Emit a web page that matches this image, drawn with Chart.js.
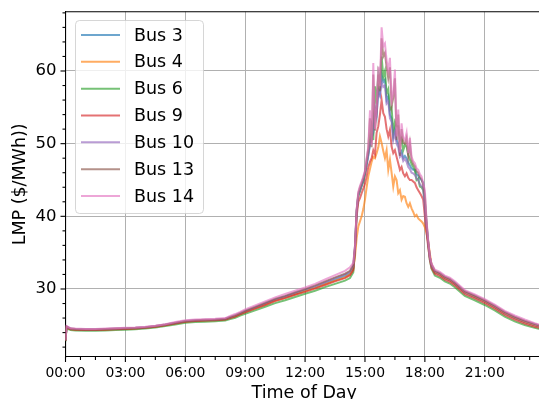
<!DOCTYPE html>
<html>
<head>
<meta charset="utf-8">
<script src="https://cdn.jsdelivr.net/npm/chart.js@4/dist/chart.umd.min.js"></script>
<style>
html,body{margin:0;padding:0;overflow:hidden;background:#fff;width:539px;height:399px}
#wrap{position:absolute;left:0;top:0;width:543px;height:410px}
</style>
</head>
<body>
<div id="wrap"><canvas id="c" width="543" height="410"></canvas></div>
<script>
// ---------------- DATA ----------------
const busNames = ["Bus 3", "Bus 4", "Bus 6", "Bus 9", "Bus 10", "Bus 13", "Bus 14"];

const times = [
  // morning / midday
  "00:00","00:03","00:15","00:30","01:00","01:30","02:00","02:30","03:00","03:30",
  "04:00","04:30","05:00","05:30","06:00","06:30","07:00","07:30","08:00","08:15",
  "08:30","08:45","09:00","09:30","10:00","10:30","11:00","11:30","12:00","12:30",
  "13:00","13:30","14:00","14:15",
  // afternoon peak (5-minute)
  "14:25","14:30","14:35","14:40","14:45","14:50","14:55","15:00","15:05","15:10",
  "15:15","15:20","15:25","15:30","15:35","15:40","15:45","15:50","15:55","16:00",
  "16:05","16:10","16:15","16:20","16:25","16:30","16:35","16:40","16:45","16:50",
  "16:55","17:00","17:05","17:10","17:15","17:20","17:25","17:30","17:35","17:40",
  "17:45","17:50","17:55","18:00","18:05","18:10","18:15","18:20",
  // evening
  "18:30","18:45","19:00","19:15","19:30","20:00","20:30","21:00","21:30","22:00",
  "22:30","23:00","23:30","23:55"
];

const bus3 = [
  22.9,24.8,24.5,24.45,24.4,24.4,24.45,24.5,24.55,24.6,24.7,24.85,25.05,25.3,25.55,25.65,25.7,25.75,25.85,26.1,
  26.3,26.6,26.9,27.4,27.95,28.5,28.9,29.35,29.8,30.25,30.8,31.3,31.8,32.2,
  32.9,35.8,40.6,42.9,43.5,44.2,44.9,45.8,47.0,48.4,49.8,50.8,51.5,55.0,53.8,57.5,56.8,59.5,58.5,58.8,
  56.0,56.5,54.0,53.5,51.0,52.0,50.5,50.0,48.7,49.0,48.0,48.3,48.0,47.4,47.0,46.6,46.4,46.4,45.8,45.6,
  45.2,45.0,44.6,42.0,39.0,36.5,34.4,33.3,
  32.3,32.0,31.5,31.2,30.7,29.5,28.9,28.25,27.5,26.65,26.0,25.45,25.0,24.7
];
const bus4 = [
  22.9,24.75,24.45,24.4,24.35,24.35,24.4,24.45,24.5,24.55,24.65,24.8,25.0,25.25,25.5,25.6,25.65,25.7,25.8,26.05,
  26.25,26.55,26.85,27.35,27.85,28.4,28.8,29.25,29.7,30.15,30.65,31.15,31.6,32.0,
  32.8,34.5,37.0,38.6,39.3,40.0,41.0,42.3,44.0,45.5,46.5,47.5,48.2,48.0,48.7,49.5,51.0,50.1,49.0,48.0,
  49.1,46.4,47.8,46.0,44.1,45.5,45.0,43.2,43.6,42.3,42.8,42.7,41.8,41.3,41.8,41.1,40.6,40.0,40.2,39.7,
  39.5,39.3,39.0,38.5,37.7,36.5,34.9,33.3,
  32.35,32.05,31.55,31.25,30.75,29.55,28.95,28.3,27.55,26.7,26.05,25.5,25.05,24.75
];
const bus6 = [
  22.8,24.6,24.35,24.3,24.25,24.25,24.3,24.35,24.4,24.45,24.55,24.7,24.9,25.1,25.35,25.45,25.5,25.55,25.65,25.85,
  26.05,26.35,26.6,27.05,27.55,28.05,28.45,28.9,29.35,29.75,30.25,30.7,31.15,31.5,
  32.3,35.5,40.5,42.8,43.5,44.2,44.8,45.8,47.3,48.8,50.5,52.4,50.5,57.9,55.5,59.7,58.5,62.0,59.2,60.0,
  56.9,57.5,54.7,55.0,51.5,53.0,52.4,52.4,50.5,50.8,49.1,49.8,49.6,48.5,47.8,47.2,46.8,46.3,45.0,45.2,
  44.1,44.0,43.6,42.0,38.8,36.0,34.0,32.8,
  31.85,31.55,31.05,30.75,30.25,29.05,28.45,27.8,27.05,26.2,25.55,25.05,24.65,24.4
];
const bus9 = [
  22.85,24.7,24.45,24.4,24.35,24.35,24.4,24.45,24.5,24.55,24.65,24.8,25.0,25.25,25.5,25.6,25.65,25.7,25.8,26.0,
  26.2,26.5,26.8,27.3,27.8,28.35,28.75,29.2,29.6,30.05,30.55,31.05,31.5,31.9,
  32.6,35.2,40.0,42.0,42.5,43.2,43.8,44.5,45.5,46.8,47.5,48.0,49.1,48.5,51.5,52.4,54.0,56.0,54.2,53.7,
  52.0,51.0,51.9,49.6,48.7,49.1,48.2,47.3,46.4,46.8,45.9,45.5,45.9,45.3,45.0,45.0,44.8,44.6,44.0,43.6,
  43.2,42.8,42.3,40.0,37.8,35.8,34.0,32.9,
  32.1,31.8,31.3,31.0,30.5,29.3,28.7,28.05,27.3,26.45,25.8,25.25,24.8,24.55
];
const bus10 = [
  22.9,24.85,24.55,24.5,24.45,24.45,24.5,24.55,24.6,24.65,24.75,24.9,25.1,25.35,25.6,25.7,25.75,25.8,25.9,26.15,
  26.4,26.7,27.0,27.5,28.05,28.6,29.0,29.5,29.95,30.4,30.95,31.5,32.0,32.4,
  33.2,35.6,40.8,43.0,43.6,44.3,45.0,45.9,47.2,48.5,50.0,50.5,52.0,54.5,54.0,57.0,56.5,58.5,57.8,58.0,
  55.5,55.8,53.5,53.0,50.5,51.5,50.0,49.5,48.2,48.5,47.6,47.9,47.5,46.8,46.5,46.0,45.9,45.7,45.2,45.0,
  44.4,44.2,43.8,41.0,38.5,36.3,34.3,33.2,
  32.45,32.15,31.65,31.35,30.85,29.65,29.05,28.4,27.65,26.8,26.15,25.6,25.15,24.8
];
const bus13 = [
  22.95,24.85,24.55,24.5,24.45,24.45,24.5,24.55,24.6,24.65,24.75,24.9,25.1,25.35,25.6,25.7,25.75,25.8,25.9,26.15,
  26.4,26.7,27.0,27.55,28.1,28.65,29.05,29.55,30.0,30.5,31.05,31.6,32.1,32.5,
  33.4,35.9,40.9,43.2,44.0,44.6,45.3,46.1,47.8,49.3,53.5,49.5,59.5,51.8,54.5,59.5,57.2,64.5,62.0,62.5,
  60.5,59.0,60.5,55.2,56.3,59.0,50.5,54.0,48.3,52.0,50.2,50.0,50.8,48.2,50.0,47.8,47.2,46.9,46.2,46.0,
  45.4,45.1,44.3,43.0,39.2,36.5,34.4,33.4,
  32.5,32.2,31.7,31.4,30.9,29.7,29.1,28.45,27.7,26.85,26.2,25.65,25.2,24.85
];
const bus14 = [
  23.0,24.9,24.6,24.55,24.5,24.5,24.55,24.6,24.65,24.7,24.8,24.95,25.15,25.45,25.7,25.8,25.85,25.9,26.0,26.3,
  26.55,26.85,27.2,27.75,28.3,28.85,29.3,29.75,30.2,30.7,31.3,31.9,32.5,33.0,
  33.6,36.0,41.0,43.4,44.2,44.8,45.5,46.3,48.0,49.6,54.6,49.8,61.1,52.0,55.0,60.6,57.9,66.0,63.4,63.8,
  61.5,60.1,61.8,56.0,57.0,60.2,51.0,54.7,48.8,52.8,50.8,50.5,51.5,48.7,50.8,48.2,47.6,47.3,46.6,46.4,
  45.8,45.5,44.6,43.6,39.5,36.7,34.5,33.5,
  32.65,32.35,31.85,31.55,31.05,29.85,29.25,28.6,27.85,27.0,26.35,25.8,25.3,24.95
];

const xTickHours  = [0, 3, 6, 9, 12, 15, 18, 21];
const xTickLabels = ["00:00","03:00","06:00","09:00","12:00","15:00","18:00","21:00"];
const yTickValues = [30, 40, 50, 60];

// ---------------- STYLE ----------------
const busColors = [
  "rgba(31,119,180,0.65)", "rgba(255,127,14,0.65)", "rgba(44,160,44,0.65)",
  "rgba(214,39,40,0.65)", "rgba(148,103,189,0.65)", "rgba(140,86,75,0.65)",
  "rgba(227,119,194,0.65)"
];
const FONT = "'DejaVu Sans', 'Liberation Sans', sans-serif";

const hours = times.map(t => parseInt(t.slice(0, 2), 10) + parseInt(t.slice(3), 10) / 60);
const allSeries = [bus3, bus4, bus6, bus9, bus10, bus13, bus14];

const datasets = allSeries.map((vals, i) => ({
  label: busNames[i],
  data: vals.map((v, j) => ({ x: hours[j], y: v })),
  borderColor: busColors[i],
  backgroundColor: busColors[i],
  borderWidth: 2,
  pointRadius: 0,
  tension: 0,
  fill: false,
  order: allSeries.length - i
}));

const decor = {
  id: 'decor',
  afterDraw(chart) {
    const ctx = chart.ctx, ca = chart.chartArea;
    const xs = chart.scales.x, ys = chart.scales.y;
    ctx.save();
    ctx.strokeStyle = '#000';
    ctx.lineWidth = 1.1;
    // top spine
    ctx.beginPath();
    ctx.moveTo(ca.left, ca.top); ctx.lineTo(ca.right, ca.top);
    ctx.stroke();
    // x ticks (major every 3h, minor every 45 min)
    for (let k = 0; k * 0.75 <= xs.max + 1e-9; k++) {
      const h = k * 0.75;
      const major = (k % 4) === 0;
      const px = xs.getPixelForValue(h);
      ctx.beginPath();
      ctx.moveTo(px, ca.bottom); ctx.lineTo(px, ca.bottom + (major ? 5 : 3));
      ctx.stroke();
    }
    // y ticks (major every 10, minor every 2)
    for (let v = 22; v <= ys.max; v += 2) {
      const major = (v % 10) === 0;
      const py = ys.getPixelForValue(v);
      ctx.beginPath();
      ctx.moveTo(ca.left, py); ctx.lineTo(ca.left - (major ? 5 : 3), py);
      ctx.stroke();
    }
    // legend
    const lx = 75.5, ly = 20.5, lw = 128, lh = 193, r = 4;
    ctx.beginPath();
    ctx.moveTo(lx + r, ly);
    ctx.arcTo(lx + lw, ly, lx + lw, ly + lh, r);
    ctx.arcTo(lx + lw, ly + lh, lx, ly + lh, r);
    ctx.arcTo(lx, ly + lh, lx, ly, r);
    ctx.arcTo(lx, ly, lx + lw, ly, r);
    ctx.closePath();
    ctx.fillStyle = 'rgba(255,255,255,0.8)';
    ctx.fill();
    ctx.strokeStyle = 'rgba(204,204,204,0.8)';
    ctx.lineWidth = 1;
    ctx.stroke();
    ctx.font = "17.5px " + FONT;
    ctx.textBaseline = 'middle';
    ctx.textAlign = 'left';
    chart.data.datasets.forEach((ds, i) => {
      const y = 35 + i * 26.83;
      ctx.strokeStyle = ds.borderColor;
      ctx.lineWidth = 2;
      ctx.beginPath();
      ctx.moveTo(81, y); ctx.lineTo(120, y);
      ctx.stroke();
      ctx.fillStyle = '#000';
      ctx.fillText(ds.label, 134, y + 1);
    });
    ctx.restore();
  }
};

Chart.defaults.font.family = FONT;
Chart.defaults.color = '#000';

new Chart(document.getElementById('c'), {
  type: 'line',
  data: { datasets },
  options: {
    responsive: false,
    animation: false,
    devicePixelRatio: 1,
    layout: { padding: { top: 11.7, left: 0, right: 0, bottom: 0 } },
    plugins: { legend: { display: false }, tooltip: { enabled: false } },
    scales: {
      x: {
        type: 'linear',
        min: 0,
        max: 23.917,
        afterFit: s => { s.height = 53; s.paddingLeft = 0; s.paddingRight = 0; },
        afterBuildTicks: s => { s.ticks = xTickHours.map(v => ({ value: v })); },
        ticks: {
          autoSkip: false, maxRotation: 0, padding: 8,
          font: { size: 13.9 },
          callback: (v, i) => xTickLabels[i]
        },
        grid: { color: '#b0b0b0', lineWidth: 1, drawTicks: false },
        border: { display: true, color: '#000', width: 1.1 },
        title: {
          display: true, text: 'Time of Day',
          font: { size: 17.5, lineHeight: 1.2 },
          padding: { top: 0, bottom: 6.5 }
        }
      },
      y: {
        type: 'linear',
        min: 20.64,
        max: 68.16,
        afterFit: s => { s.width = 65.5; s.paddingTop = 0; s.paddingBottom = 0; },
        afterBuildTicks: s => { s.ticks = yTickValues.map(v => ({ value: v })); },
        ticks: { padding: 9, font: { size: 16.5 }, callback: v => String(v) },
        grid: { color: '#b0b0b0', lineWidth: 1, drawTicks: false },
        border: { display: true, color: '#000', width: 1.1 },
        title: {
          display: true, text: 'LMP ($/MWh))',
          font: { size: 17.5, lineHeight: 1.2 },
          padding: { top: 9.5, bottom: 0 }
        }
      }
    }
  },
  plugins: [decor]
});
</script>
</body>
</html>
